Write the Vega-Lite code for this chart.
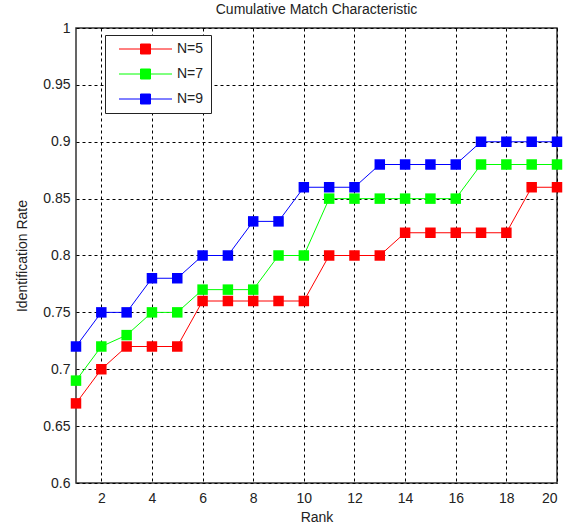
{
  "$schema": "https://vega.github.io/schema/vega-lite/v6.json",
  "autosize": {"type": "none"},
  "width": 481,
  "height": 455,
  "padding": {"left": 76, "top": 28, "right": 15, "bottom": 48},
  "background": "white",
  "title": {"text": "Cumulative Match Characteristic", "font": "Liberation Sans", "fontSize": 14, "fontWeight": "normal", "color": "#222", "offset": 4, "anchor": "middle"},
  "data": {"values": [
    {"rank": 1, "rate": 0.67, "series": "N=5"},
    {"rank": 2, "rate": 0.70, "series": "N=5"},
    {"rank": 3, "rate": 0.72, "series": "N=5"},
    {"rank": 4, "rate": 0.72, "series": "N=5"},
    {"rank": 5, "rate": 0.72, "series": "N=5"},
    {"rank": 6, "rate": 0.76, "series": "N=5"},
    {"rank": 7, "rate": 0.76, "series": "N=5"},
    {"rank": 8, "rate": 0.76, "series": "N=5"},
    {"rank": 9, "rate": 0.76, "series": "N=5"},
    {"rank": 10, "rate": 0.76, "series": "N=5"},
    {"rank": 11, "rate": 0.80, "series": "N=5"},
    {"rank": 12, "rate": 0.80, "series": "N=5"},
    {"rank": 13, "rate": 0.80, "series": "N=5"},
    {"rank": 14, "rate": 0.82, "series": "N=5"},
    {"rank": 15, "rate": 0.82, "series": "N=5"},
    {"rank": 16, "rate": 0.82, "series": "N=5"},
    {"rank": 17, "rate": 0.82, "series": "N=5"},
    {"rank": 18, "rate": 0.82, "series": "N=5"},
    {"rank": 19, "rate": 0.86, "series": "N=5"},
    {"rank": 20, "rate": 0.86, "series": "N=5"},
    {"rank": 1, "rate": 0.69, "series": "N=7"},
    {"rank": 2, "rate": 0.72, "series": "N=7"},
    {"rank": 3, "rate": 0.73, "series": "N=7"},
    {"rank": 4, "rate": 0.75, "series": "N=7"},
    {"rank": 5, "rate": 0.75, "series": "N=7"},
    {"rank": 6, "rate": 0.77, "series": "N=7"},
    {"rank": 7, "rate": 0.77, "series": "N=7"},
    {"rank": 8, "rate": 0.77, "series": "N=7"},
    {"rank": 9, "rate": 0.80, "series": "N=7"},
    {"rank": 10, "rate": 0.80, "series": "N=7"},
    {"rank": 11, "rate": 0.85, "series": "N=7"},
    {"rank": 12, "rate": 0.85, "series": "N=7"},
    {"rank": 13, "rate": 0.85, "series": "N=7"},
    {"rank": 14, "rate": 0.85, "series": "N=7"},
    {"rank": 15, "rate": 0.85, "series": "N=7"},
    {"rank": 16, "rate": 0.85, "series": "N=7"},
    {"rank": 17, "rate": 0.88, "series": "N=7"},
    {"rank": 18, "rate": 0.88, "series": "N=7"},
    {"rank": 19, "rate": 0.88, "series": "N=7"},
    {"rank": 20, "rate": 0.88, "series": "N=7"},
    {"rank": 1, "rate": 0.72, "series": "N=9"},
    {"rank": 2, "rate": 0.75, "series": "N=9"},
    {"rank": 3, "rate": 0.75, "series": "N=9"},
    {"rank": 4, "rate": 0.78, "series": "N=9"},
    {"rank": 5, "rate": 0.78, "series": "N=9"},
    {"rank": 6, "rate": 0.80, "series": "N=9"},
    {"rank": 7, "rate": 0.80, "series": "N=9"},
    {"rank": 8, "rate": 0.83, "series": "N=9"},
    {"rank": 9, "rate": 0.83, "series": "N=9"},
    {"rank": 10, "rate": 0.86, "series": "N=9"},
    {"rank": 11, "rate": 0.86, "series": "N=9"},
    {"rank": 12, "rate": 0.86, "series": "N=9"},
    {"rank": 13, "rate": 0.88, "series": "N=9"},
    {"rank": 14, "rate": 0.88, "series": "N=9"},
    {"rank": 15, "rate": 0.88, "series": "N=9"},
    {"rank": 16, "rate": 0.88, "series": "N=9"},
    {"rank": 17, "rate": 0.90, "series": "N=9"},
    {"rank": 18, "rate": 0.90, "series": "N=9"},
    {"rank": 19, "rate": 0.90, "series": "N=9"},
    {"rank": 20, "rate": 0.90, "series": "N=9"}
  ]},
  "encoding": {
    "x": {"field": "rank", "type": "quantitative", "title": "Rank",
      "scale": {"domain": [1, 20], "nice": false, "zero": false},
      "axis": {"values": [2, 4, 6, 8, 10, 12, 14, 16, 18, 20]}},
    "y": {"field": "rate", "type": "quantitative", "title": "Identification Rate",
      "scale": {"domain": [0.6, 1], "nice": false, "zero": false},
      "axis": {"values": [0.6, 0.65, 0.7, 0.75, 0.8, 0.85, 0.9, 0.95, 1], "format": "~g"}},
    "color": {"field": "series", "type": "nominal",
      "scale": {"domain": ["N=5", "N=7", "N=9"], "range": ["#ff0000", "#00ff00", "#0000ff"]},
      "legend": {"title": null, "orient": "none", "legendX": 29, "legendY": 7,
        "symbolType": "M0,0H10.6M4.3,-1H6.3V1H4.3Z", "symbolSize": 100,
        "symbolStrokeWidth": 1, "symbolOpacity": 1,
        "labelFont": "Liberation Sans", "labelFontSize": 14, "labelColor": "#222", "labelOffset": 51,
        "rowPadding": 11, "padding": 7, "strokeColor": "#222", "fillColor": "white"}}
  },
  "layer": [
    {"mark": {"type": "line", "strokeWidth": 1}},
    {"mark": {"type": "point", "shape": "square", "filled": true, "size": 110, "opacity": 1}}
  ],
  "config": {
    "view": {"stroke": "#333", "strokeWidth": 1.5},
    "axis": {
      "grid": true, "gridColor": "#000", "gridOpacity": 1, "gridDash": [3, 3], "gridWidth": 1,
      "domain": false, "ticks": false,
      "labelFont": "Liberation Sans", "labelFontSize": 14, "labelColor": "#222",
      "titleFont": "Liberation Sans", "titleFontSize": 14, "titleFontWeight": "normal", "titleColor": "#222"
    },
    "axisX": {"labelPadding": 8, "titlePadding": 5},
    "axisY": {"labelPadding": 6, "titlePadding": 13}
  }
}
